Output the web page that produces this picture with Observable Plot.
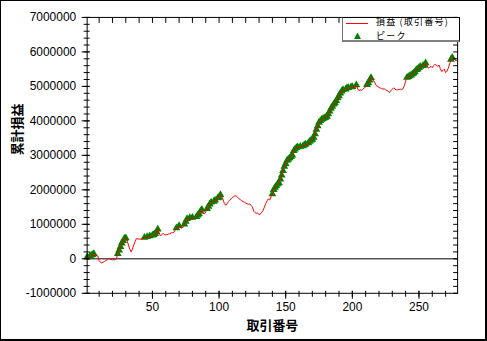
<!DOCTYPE html>
<html><head><meta charset="utf-8">
<script src="https://cdn.jsdelivr.net/npm/d3@7"></script>
<script src="https://cdn.jsdelivr.net/npm/@observablehq/plot@0.6"></script>
<style>
html,body{margin:0;padding:0;background:#fff;}
#wrap{position:relative;width:487px;height:341px;box-sizing:border-box;border:1px solid #000;border-right-width:2px;border-bottom-width:2px;overflow:hidden;background:#fff;}
#chart{position:absolute;left:-1px;top:-1px;}
#legend{position:absolute;left:341px;top:16px;width:118px;height:25px;box-sizing:border-box;background:#fff;border-top:1px solid #000;border-right:1px solid #000;border-left:1px solid #707070;border-bottom:2px solid #808080;font-family:"Noto Sans CJK JP",sans-serif;font-size:9px;letter-spacing:1.2px;color:#000;}
#legend .t{position:absolute;left:33px;height:10px;line-height:10px;white-space:nowrap;}
</style></head>
<body>
<div id="wrap"><div id="chart"></div>
<div id="legend">
  <div style="position:absolute;left:3px;top:5px;width:22px;height:1px;background:#ff0000;"></div>
  <div class="t" id="lg1" style="top:-1px;"></div>
  <svg style="position:absolute;left:11px;top:14px;" width="8" height="8"><path d="M3.5,0.5L7,7H0Z" fill="#008000"/></svg>
  <div class="t" id="lg2" style="top:13px;"></div>
</div>
</div>
<script>
const seriesNames = ["損益 (取引番号)", "ピーク"];
const xLabel = "取引番号";
const yLabel = "累計損益";
const yTicks = [-1000000, 0, 1000000, 2000000, 3000000, 4000000, 5000000, 6000000, 7000000];
const xTicks = [50, 100, 150, 200, 250];
// cumulative P&L per trade (trade 1..279)
const equity = [
 50000, 30000, 80000, 100000, 120000, 150000, 100000, 90000, 80000, -50000,
 -100000, -120000, -100000, -80000, -50000, -30000, 20000, -20000, -10000, -30000,
 -20000, -30000, 0, 150000, 250000, 350000, 450000, 520000, 590000, 600000,
 520000, 400000, 280000, 200000, 280000, 400000, 500000, 590000, 580000, 570000,
 570000, 580000, 580000, 620000, 610000, 640000, 630000, 660000, 650000, 680000,
 700000, 730000, 780000, 860000, 750000, 660000, 700000, 740000, 700000, 690000,
 700000, 720000, 720000, 750000, 760000, 760000, 840000, 890000, 880000, 960000,
 930000, 880000, 920000, 1000000, 1080000, 1160000, 1140000, 1190000, 1180000, 1200000,
 1170000, 1190000, 1220000, 1260000, 1300000, 1380000, 1430000, 1320000, 1300000, 1360000,
 1450000, 1520000, 1580000, 1640000, 1620000, 1660000, 1700000, 1680000, 1760000, 1780000,
 1860000, 1800000, 1720000, 1600000, 1550000, 1600000, 1660000, 1700000, 1740000, 1780000,
 1800000, 1830000, 1820000, 1780000, 1740000, 1720000, 1680000, 1660000, 1640000, 1620000,
 1600000, 1580000, 1590000, 1550000, 1500000, 1380000, 1340000, 1320000, 1330000, 1280000,
 1300000, 1350000, 1400000, 1500000, 1600000, 1680000, 1740000, 1700000, 1800000, 1880000,
 2000000, 2070000, 2120000, 2170000, 2200000, 2310000, 2420000, 2550000, 2680000, 2760000,
 2850000, 2890000, 2920000, 2960000, 3000000, 3130000, 3180000, 3220000, 3240000, 3220000,
 3260000, 3240000, 3270000, 3300000, 3320000, 3300000, 3360000, 3400000, 3440000, 3460000,
 3520000, 3620000, 3750000, 3850000, 3950000, 4000000, 4040000, 4060000, 4080000, 4100000,
 4130000, 4200000, 4280000, 4360000, 4420000, 4480000, 4520000, 4580000, 4660000, 4720000,
 4800000, 4860000, 4900000, 4880000, 4920000, 4950000, 4960000, 4940000, 4980000, 4990000,
 4960000, 4950000, 5040000, 4930000, 4880000, 4900000, 4880000, 4920000, 4960000, 4980000,
 5050000, 5100000, 5180000, 5250000, 5220000, 5160000, 5100000, 5020000, 5000000, 4970000,
 4950000, 4940000, 4920000, 4930000, 4900000, 4880000, 4860000, 4820000, 4880000, 4920000,
 4960000, 4920000, 4900000, 4900000, 4910000, 4920000, 4910000, 4930000, 5020000, 5150000,
 5260000, 5280000, 5300000, 5320000, 5360000, 5380000, 5420000, 5480000, 5500000, 5540000,
 5580000, 5560000, 5600000, 5620000, 5680000, 5620000, 5530000, 5550000, 5580000, 5540000,
 5600000, 5640000, 5620000, 5580000, 5620000, 5520000, 5430000, 5460000, 5500000, 5400000,
 5440000, 5530000, 5650000, 5780000, 5840000, 5800000, 5760000, 5750000, 5740000
];
const trades = d3.range(1, equity.length + 1);

document.getElementById("lg1").textContent = seriesNames[0];
document.getElementById("lg2").textContent = seriesNames[1];

const data = trades.map((t, i) => ({trade: t, pnl: equity[i]}));
let runMax = -Infinity;
const peaks = data.filter(d => { if (d.pnl >= runMax) { runMax = d.pnl; return true; } return false; });

const yMinor = d3.range(-1000000, 7000001, 200000);
const xMinor = d3.range(10, 280, 10);
const jp = "'Noto Sans CJK JP', sans-serif";

const chart = Plot.plot({
  width: 487, height: 341,
  marginLeft: 87, marginRight: 28, marginTop: 17, marginBottom: 47,
  style: {fontFamily: "'Liberation Sans', Arial, sans-serif", fontSize: "12px", background: "transparent", color: "#000"},
  x: {domain: [1, 279]},
  y: {domain: [-1000000, 7000000]},
  marks: [
    Plot.ruleY([0], {stroke: "#555", strokeWidth: 1.5}),
    Plot.dot(peaks, {x: "trade", y: "pnl", symbol: "triangle", r: 2.9, fill: "#008000", stroke: "none"}),
    Plot.line(data, {x: "trade", y: "pnl", stroke: "#ff0000", strokeWidth: 1}),
    Plot.frame({stroke: "#000"}),
    Plot.axisY(yMinor, {anchor: "left", tickSize: 6, dx: 3, text: null, label: null}),
    Plot.axisY(yTicks, {anchor: "left", tickSize: 8, dx: 3, text: null, label: null}),
    Plot.axisY(yTicks, {anchor: "left", tickSize: 0, tickPadding: 11, tickFormat: d => String(d), label: null, fill: "#000"}),
    Plot.axisY(yMinor, {anchor: "right", tickSize: 5, dx: -5, text: null, label: null}),
    Plot.axisX(xMinor, {anchor: "bottom", tickSize: 6, dy: -2, text: null, label: null}),
    Plot.axisX(xTicks, {anchor: "bottom", tickSize: 8, dy: -2, text: null, label: null}),
    Plot.axisX(xTicks, {anchor: "bottom", tickSize: 0, tickPadding: 9, tickFormat: d => String(d), label: null, fill: "#000"}),
    Plot.axisX(xMinor, {anchor: "top", tickSize: 5, dy: 5, text: null, label: null}),
    Plot.text([xLabel], {text: d => d, frameAnchor: "bottom", dy: 37, fontSize: 13, fontWeight: "bold", fontFamily: jp, fill: "#000"}),
    Plot.text([yLabel], {text: d => d, frameAnchor: "left", dx: -70, rotate: -90, fontSize: 13, fontWeight: "bold", fontFamily: jp, fill: "#000"})
  ]
});
document.getElementById("chart").appendChild(chart);
</script>
</body></html>
